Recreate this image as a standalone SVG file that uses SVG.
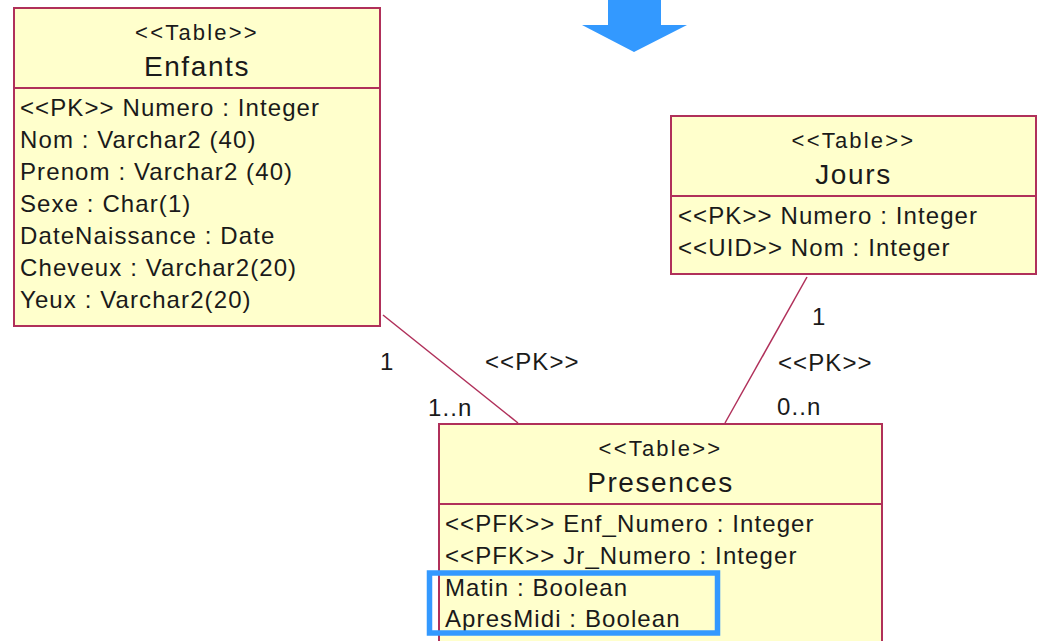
<svg xmlns="http://www.w3.org/2000/svg" width="1037" height="641" viewBox="0 0 1037 641">
<style>
.box{fill:#ffffcc;stroke:#b0305a;stroke-width:2}
.div{stroke:#b0305a;stroke-width:2}
.conn{stroke:#b0305a;stroke-width:1.5;fill:none}
.t{font-family:"Liberation Sans",Arial,sans-serif;fill:#1a1a1a}
.st{font-size:22px;letter-spacing:2.2px;text-anchor:middle}
.nm{font-size:28px;letter-spacing:1.6px;text-anchor:middle}
.at{font-size:24px;letter-spacing:1.1px}
.hl{fill:none;stroke:#3399ff;stroke-width:5.5}
</style>
<rect width="1037" height="641" fill="#ffffff"/>
<g id="arrow">
<polygon points="608,0 661,0 661,25 687,25 634,52 582,25 608,25" fill="#3399ff"/>
</g>
<g id="connectors">
<line class="conn" x1="383" y1="315" x2="518" y2="423"/>
<line class="conn" x1="807" y1="277" x2="725" y2="423"/>
<text class="t at" x="380" y="370">1</text>
<text class="t at" x="485" y="370">&lt;&lt;PK&gt;&gt;</text>
<text class="t at" x="428" y="416">1..n</text>
<text class="t at" x="812" y="325">1</text>
<text class="t at" x="778" y="371">&lt;&lt;PK&gt;&gt;</text>
<text class="t at" x="777" y="415">0..n</text>
</g>
<g id="enfants">
<rect class="box" x="14" y="8" width="366" height="318"/>
<line class="div" x1="14" y1="88" x2="380" y2="88"/>
<text class="t st" x="197" y="40">&lt;&lt;Table&gt;&gt;</text>
<text class="t nm" x="197" y="76">Enfants</text>
<text class="t at" x="20" y="116">&lt;&lt;PK&gt;&gt; Numero : Integer</text>
<text class="t at" x="20" y="148">Nom : Varchar2 (40)</text>
<text class="t at" x="20" y="180">Prenom : Varchar2 (40)</text>
<text class="t at" x="20" y="212">Sexe : Char(1)</text>
<text class="t at" x="20" y="244">DateNaissance : Date</text>
<text class="t at" x="20" y="276">Cheveux : Varchar2(20)</text>
<text class="t at" x="20" y="308">Yeux : Varchar2(20)</text>
</g>
<g id="jours">
<rect class="box" x="671" y="116" width="365" height="158"/>
<line class="div" x1="671" y1="196" x2="1036" y2="196"/>
<text class="t st" x="853.5" y="148">&lt;&lt;Table&gt;&gt;</text>
<text class="t nm" x="853.5" y="184">Jours</text>
<text class="t at" x="678" y="224">&lt;&lt;PK&gt;&gt; Numero : Integer</text>
<text class="t at" x="678" y="256">&lt;&lt;UID&gt;&gt; Nom : Integer</text>
</g>
<g id="presences">
<rect class="box" x="439" y="424" width="443" height="230"/>
<line class="div" x1="439" y1="504" x2="882" y2="504"/>
<text class="t st" x="660.5" y="456">&lt;&lt;Table&gt;&gt;</text>
<text class="t nm" x="660.5" y="492">Presences</text>
<text class="t at" x="445" y="532">&lt;&lt;PFK&gt;&gt; Enf_Numero : Integer</text>
<text class="t at" x="445" y="564">&lt;&lt;PFK&gt;&gt; Jr_Numero : Integer</text>
<text class="t at" x="445" y="596">Matin : Boolean</text>
<text class="t at" x="445" y="627">ApresMidi : Boolean</text>
</g>
<g id="highlight">
<rect class="hl" x="429.5" y="573" width="288" height="60"/>
</g>
</svg>
